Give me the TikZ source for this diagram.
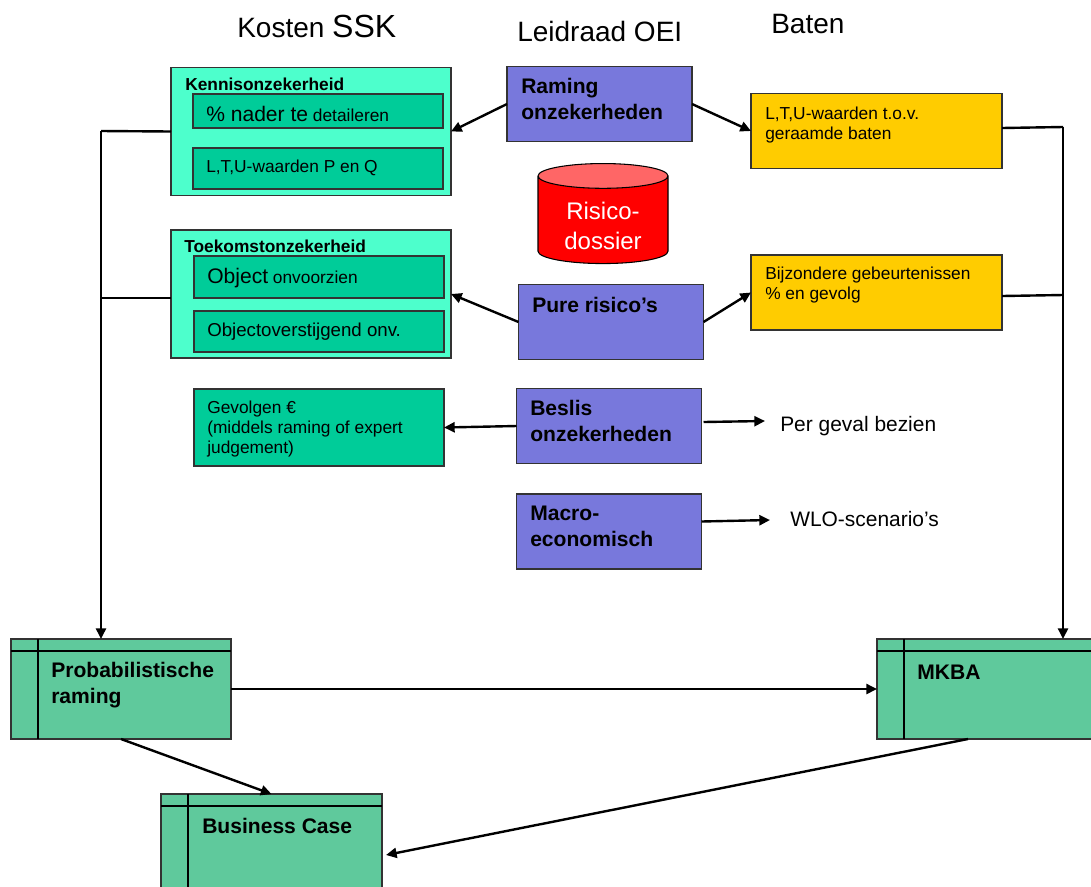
\documentclass[tikz,border=0pt]{standalone}
\usepackage{fontspec}
\setmainfont{Liberation Sans}
\usetikzlibrary{shapes, arrows.meta, calc}

\definecolor{lichtgroen}{HTML}{4DFFCC}
\definecolor{donkergroen}{HTML}{00CC99}
\definecolor{paars}{HTML}{7878DC}
\definecolor{geel}{HTML}{FFCC00}
\definecolor{tabelgroen}{HTML}{5FC99C}
\definecolor{rand}{HTML}{333333}

\def\px{0.75pt}

\tikzset{
    blok/.style={draw=rand, line width=0.8pt, outer sep=0pt, inner sep=0pt},
    kader/.style={blok, fill=lichtgroen, minimum width=280*\px, minimum height=128*\px},
    vak/.style={blok, fill=donkergroen, minimum width=250*\px},
    bron/.style={blok, fill=paars, minimum width=185*\px, minimum height=75*\px},
    baat/.style={blok, fill=geel, minimum width=251*\px, minimum height=75*\px},
    tabel/.style={blok, fill=tabelgroen, minimum width=220*\px, minimum height=100*\px},
    tekst/.style={anchor=base west, inner sep=0pt, align=left, font=\fontsize{13}{15}\selectfont},
    kop/.style={anchor=base west, inner sep=0pt, font=\fontsize{21}{25}\selectfont},
    vet/.style={tekst, font=\fontsize{15.8}{18.8}\selectfont\bfseries},
    pijl/.style={-{Triangle[length=8pt, width=7.5pt]}, line width=1.8pt},
    lijn/.style={line width=1.8pt}
}

\begin{document}
\begin{tikzpicture}[x=0.75pt, y=-0.75pt]

    \useasboundingbox (0,0) rectangle (1091,886);

    % headers
    \node[kop] (kopkosten) at (237,37) {Kosten {\fontsize{24}{25}\selectfont SSK}};
    \node[kop] (kopleidraad) at (517,41) {Leidraad OEI};
    \node[kop] (kopbaten) at (771,33) {Baten};

    % left column
    \node[kader] (kennis) at (311,131.5) {};
    \node[vak, minimum height=34*\px] (nader) at (318,111) {};
    \node[vak, minimum height=41*\px] (ltup) at (318,168.5) {};
    \node[tekst, font=\fontsize{13}{15}\selectfont\bfseries] (kennistekst) at (185,90) {Kennisonzekerheid};
    \node[tekst] (nadertekst) at (206,121) {{\fontsize{15.8}{18}\selectfont \% nader te} detaileren};
    \node[tekst] (ltuptekst) at (206,172) {L,T,U-waarden P en Q};

    \node[kader] (toekomst) at (311,294) {};
    \node[vak, minimum height=42*\px] (object) at (319,277) {};
    \node[vak, minimum height=41*\px] (overstijgend) at (319,331.5) {};
    \node[tekst, font=\fontsize{13}{15}\selectfont\bfseries] (toekomsttekst) at (184,252) {Toekomstonzekerheid};
    \node[tekst] (objecttekst) at (207,283) {{\fontsize{15.8}{18}\selectfont Object} onvoorzien};
    \node[tekst, font=\fontsize{14}{16}\selectfont] (overstijgendtekst) at (207,336) {Objectoverstijgend onv.};

    \node[vak, minimum height=77*\px] (gevolgen) at (319,427.5) {};
    \node[tekst] (gevolgentekst) at (207,453) {Gevolgen €\\(middels raming of expert\\judgement)};

    % middle column
    \node[bron] (raming) at (599.5,104) {};
    \node[vet] (ramingtekst) at (521,119) {Raming\\onzekerheden};

    \node[cylinder, shape border rotate=90, draw=black, line width=0.8pt, aspect=0.32,
        cylinder uses custom fill, cylinder body fill=red, cylinder end fill=red!60!white,
        minimum width=130*\px, minimum height=100*\px, outer sep=0pt, inner sep=0pt,
        align=center, text=white, font=\fontsize{18}{22.5}\selectfont] (dossier) at (603,220) {\rule{0pt}{22pt}Risico-\\dossier};

    \node[bron] (puur) at (611,322) {};
    \node[vet] (puurtekst) at (532,312) {Pure risico’s};

    \node[bron] (beslis) at (609,426) {};
    \node[vet] (beslistekst) at (530,441) {Beslis\\onzekerheden};

    \node[bron] (macro) at (609,531.5) {};
    \node[vet] (macrotekst) at (530,546) {Macro-\\economisch};

    % right column
    \node[baat] (geraamd) at (876.5,131) {};
    \node[tekst] (geraamdtekst) at (765,139) {L,T,U-waarden t.o.v.\\geraamde baten};

    \node[baat] (bijzonder) at (876.5,292.5) {};
    \node[tekst] (bijzondertekst) at (765,299) {Bijzondere gebeurtenissen\\\% en gevolg};

    \node[tekst, font=\fontsize{15.7}{18}\selectfont] (geval) at (780,431) {Per geval bezien};
    \node[tekst, font=\fontsize{15.7}{18}\selectfont] (wlo) at (790,526) {WLO-scenario’s};

    % bottom tables
    \node[tabel] (prob) at (121,689) {};
    \node[tabel] (mkba) at (987,689) {};
    \node[tabel, minimum width=221*\px] (bizcase) at (271.5,844) {};
    \foreach \tbl in {prob, mkba, bizcase} {
        \draw[line width=0.8pt] ($ (\tbl.north west) + (27,0) $) -- ($ (\tbl.south west) + (27,0) $);
        \draw[line width=0.8pt] ($ (\tbl.north west) + (0,12) $) -- ($ (\tbl.north east) + (0,12) $);
    }
    \node[vet] (probtekst) at (51,703) {Probabilistische\\raming};
    \node[vet] (mkbatekst) at (917,679) {MKBA};
    \node[vet] (biztekst) at (202,833) {Business Case};

    % connectors to the three columns
    \draw[pijl] (raming.west) -- (kennis.east);
    \draw[pijl] (raming.east) -- (geraamd.west);
    \draw[pijl] (puur.west) -- (toekomst.east);
    \draw[pijl] (puur.east) -- (bijzonder.west);
    \draw[pijl] (beslis.west) -- (gevolgen.east);

    \coordinate (gevalpunt) at (765,421);
    \coordinate (wlopunt) at (770,520);
    \draw[pijl] ($ (beslis.east) + (2,-4) $) -- (gevalpunt);
    \draw[pijl] ($ (macro.east) + (0,-10) $) -- (wlopunt);

    % collecting lines
    \coordinate (linksboven) at (101,131);
    \coordinate (linksmidden) at (101,298);
    \coordinate (rechtsboven) at (1063,127);
    \coordinate (rechtsmidden) at (1063,295);
    \draw[lijn] (kennis.west) -- (linksboven);
    \draw[lijn] ($ (toekomst.west) + (0,4) $) -- (linksmidden);
    \draw[pijl] (linksboven) -- (prob.north -| linksboven);
    \draw[lijn] ($ (geraamd.east) + (0,-3) $) -- (rechtsboven);
    \draw[lijn] ($ (bijzonder.east) + (0,3.5) $) -- (rechtsmidden);
    \draw[pijl] (rechtsboven) -- (mkba.north -| rechtsboven);

    % results
    \draw[pijl] (prob.east) -- (mkba.west);
    \draw[pijl] (prob.south) -- (bizcase.north);
    \coordinate (mkbavoet) at (968,739);
    \coordinate (bizrand) at (386,855);
    \draw[pijl] (mkbavoet) -- (bizrand);

\end{tikzpicture}
\end{document}
